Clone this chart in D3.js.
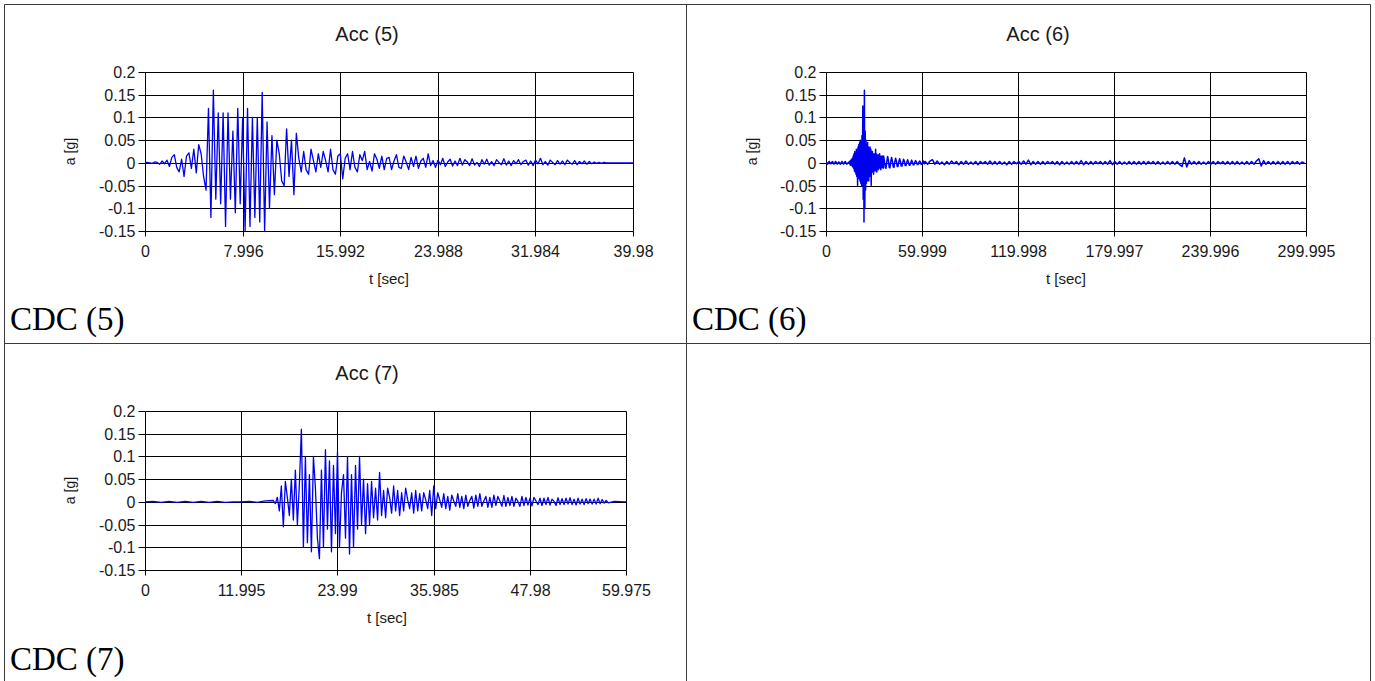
<!DOCTYPE html>
<html><head><meta charset="utf-8">
<script src="https://cdn.jsdelivr.net/npm/d3@7"></script>
<style>body{margin:0;background:#fff}svg{display:block}</style>
</head><body>
<svg id="c" width="1375" height="681"></svg>
<script>
// ---------------- DATA ----------------
const titles = ["Acc (5)", "Acc (6)", "Acc (7)"];
const captions = ["CDC (5)", "CDC (6)", "CDC (7)"];
const yLabel = "a [g]";
const xLabel = "t [sec]";
const yTicks = [-0.15, -0.1, -0.05, 0, 0.05, 0.1, 0.15, 0.2];
const yTickLabels = ["-0.15", "-0.1", "-0.05", "0", "0.05", "0.1", "0.15", "0.2"];
const xTicks5 = [0, 7.996, 15.992, 23.988, 31.984, 39.98];
const xTicks6 = [0, 59.999, 119.998, 179.997, 239.996, 299.995];
const xTicks7 = [0, 11.995, 23.99, 35.985, 47.98, 59.975];

// Acc (5): samples every 0.2 s from t = 0
const acc5Dt = 0.2;
const acc5 = [
 0,0.001,0,-0.001,0.002,0.001,-0.003,0.004,-0.002,0.006,
 -0.008,0.012,0.018,-0.01,-0.02,0.008,-0.03,0.015,0.022,-0.012,
 0.03,-0.022,0.04,0.02,-0.03,-0.06,0.12,-0.12,0.16,-0.08,
 0.11,-0.09,0.11,-0.14,0.11,-0.08,0.07,-0.11,0.12,-0.09,
 0.1,-0.15,0.12,-0.14,0.1,-0.12,0.1,-0.13,0.155,-0.15,
 0.09,-0.1,0.06,-0.07,0.05,0.02,-0.04,-0.05,0.075,-0.03,
 0.05,-0.07,0.065,0.01,-0.02,0.025,-0.015,-0.025,0.03,0.005,
 -0.02,0.02,-0.01,0.025,0.005,-0.02,0.03,-0.015,-0.025,0.015,
 0.02,-0.035,0.01,0.02,-0.015,0.025,-0.01,-0.02,0.018,0.005,
 0.025,-0.015,0.003,-0.018,0.02,0.008,-0.012,0.015,-0.015,0.01,
 0.012,-0.015,0.004,0.018,-0.01,-0.012,0.015,0.002,-0.015,0.012,
 -0.008,0.015,-0.012,0.004,0.01,-0.01,0.02,-0.006,0.005,-0.01,
 0.006,-0.004,0.01,-0.008,0.002,0.008,-0.007,0.004,-0.006,0.01,
 -0.005,0.007,0.002,-0.006,0.009,-0.005,0.001,-0.008,0.007,-0.003,
 0.008,-0.005,0.003,-0.006,0.007,0.001,-0.004,0.009,-0.005,0.004,
 -0.006,0.005,-0.002,0.007,-0.004,0.003,0.006,-0.005,0.004,-0.006,
 0.006,-0.002,0.01,-0.004,0.003,-0.005,0.006,0.001,-0.004,0.005,
 -0.003,0.004,-0.004,0.006,0.001,-0.003,0.005,-0.004,0.003,-0.002,
 0.004,-0.003,0.003,-0.002,0.002,-0.001,0.001,-0.001,0.001,0,
 0,0,0,0,0,0,0,0,0,0
];
const acc5End = 39.98;

// Acc (6): four segments with their own start time and step
const acc6PreStart = 0, acc6PreDt = 1;
const acc6Pre = [0.003,-0.003,0.003,-0.002,0.003,-0.003,0.003,-0.003,0.002,-0.003,0.003,-0.003,0.003,-0.003];
const acc6BurstStart = 14, acc6BurstDt = 0.25;
const acc6Burst = [
 0.001,-0.001,0.002,-0.002,
 0.004,-0.005,0.006,-0.004,0.008,-0.007,0.01,-0.009,
 0.015,-0.012,0.02,-0.018,0.025,-0.02,0.018,-0.025,
 0.03,-0.03,0.025,-0.05,0.035,-0.03,0.04,-0.035,
 0.045,-0.04,0.05,-0.045,0.04,-0.05,0.06,-0.05,
 0.125,-0.08,0.09,-0.13,0.16,-0.1,0.07,-0.06,
 0.05,-0.045,0.04,-0.04,0.045,-0.035,0.035,-0.04,
 0.03,-0.03,0.035,-0.025,0.03,-0.05,0.025,-0.02,
 0.025,-0.02,0.02,-0.025,0.018,-0.015,0.02,-0.018,
 0.03,-0.015,0.02,-0.02,0.015,-0.012,0.018,-0.015,
 0.015,-0.012,0.02,-0.01,0.012,-0.015,0.015,-0.01,
 0.012,-0.01,0.015,-0.012
];
const acc6CodaStart = 36, acc6CodaDt = 0.5;
const acc6Coda = [
 0.015,0.005,-0.01,-0.012,0.002,0.014,0.006,-0.01,-0.011,0.003,
 0.012,0.004,-0.009,-0.01,0.002,0.01,0.004,-0.008,-0.008,0.002,
 0.009,0.003,-0.007,-0.007,0.001,0.008,0.003,-0.006,-0.006,0.001,
 0.007,0.002,-0.005,-0.005,0.001,0.006,0.002,-0.004,-0.004,0.001,
 0.005,0.002,-0.003,-0.004,0.001,0.004,0.002,-0.003,-0.003,0.001,
 0.004,-0.002
];
const acc6TailStart = 62, acc6TailDt = 1.5;
const acc6Tail = [
 0.003,-0.003,0.004,0.007,-0.003,0.004,-0.003,0.002,-0.004,0.003,
 -0.003,0.004,-0.002,0.003,-0.004,0.003,-0.003,0.004,-0.003,0.002,
 -0.003,0.003,-0.004,0.003,-0.002,0.003,-0.003,0.004,-0.003,0.003,
 -0.003,0.003,-0.003,0.002,-0.004,0.003,-0.003,0.003,-0.002,0.003,
 -0.003,0.004,-0.003,0.006,-0.004,0.003,-0.003,0.003,-0.003,0.003,
 -0.003,0.003,-0.002,0.003,-0.003,0.003,-0.004,0.003,-0.003,0.002,
 -0.003,0.003,-0.003,0.003,-0.003,0.005,-0.004,0.003,-0.003,0.003,
 -0.003,0.003,-0.002,0.003,-0.003,0.003,-0.003,0.005,-0.004,0.003,
 -0.003,0.003,-0.003,0.002,-0.003,0.003,-0.003,0.003,-0.003,0.003,
 -0.003,0.003,-0.003,0.003,-0.002,0.003,-0.003,0.003,-0.003,0.002,
 -0.003,0.003,-0.003,0.003,-0.003,0.003,-0.004,-0.008,0.011,-0.009,
 0.005,-0.003,0.003,-0.003,0.003,-0.003,0.002,-0.003,0.003,-0.003,
 0.003,-0.003,0.003,-0.002,0.003,-0.003,0.003,-0.003,0.003,-0.003,
 0.003,-0.003,0.002,-0.003,0.003,-0.003,0.003,-0.003,0.004,0.009,
 -0.007,0.005,-0.003,0.003,-0.003,0.003,-0.003,0.003,-0.003,0.003,
 -0.003,0.003,-0.003,0.003,-0.002,0.003,-0.003,0.002,0
];

// Acc (7): quiet start, then samples every 0.25 s from t = 16
const acc7PreStart = 0, acc7PreDt = 1;
const acc7Pre = [0,0.001,-0.001,0.001,-0.001,0.001,-0.001,0.001,-0.001,0.001,-0.001,0,0,0.001,-0.001,0.002];
const acc7BurstStart = 16, acc7BurstDt = 0.25;
const acc7Burst = [
 0.003,-0.004,0.01,-0.02,0.035,-0.055,0.045,0.01,
 -0.03,0.05,-0.04,0.07,-0.05,0.04,0.16,-0.1,
 0.1,-0.09,0.06,-0.11,0.1,0.03,-0.08,-0.125,
 0.07,-0.1,0.115,-0.06,0.09,-0.11,0.08,-0.07,
 0.11,-0.1,0.02,0.06,-0.08,0.1,-0.115,0.06,
 -0.1,0.08,-0.06,0.1,-0.05,0.05,-0.07,0.04,
 -0.05,0.045,-0.035,0.03,-0.04,0.065,-0.03,0.025,
 -0.035,0.03,0.01,-0.025,0.035,-0.02,0.025,-0.03,
 0.02,-0.02,0.03,0.005,-0.015,0.02,-0.025,0.025,
 -0.02,0.018,-0.02,0.02,0.005,-0.015,0.025,-0.03,
 0.035,-0.015,0.02,0.004,-0.012,0.018,-0.015,0.012,
 -0.018,0.015,0.002,-0.01,0.018,-0.012,0.012,-0.015,
 0.015,-0.01,0.003,0.012,-0.014,0.015,-0.01,0.018,
 -0.01,0.002,0.012,-0.012,0.01,-0.012,0.015,-0.008,
 0.012,0.002,-0.01,0.014,-0.01,0.01,-0.008,0.012,
 -0.01,0.008,0.001,-0.01,0.012,-0.008,0.01,-0.007,
 0.008,-0.009,0.01,0.002,-0.006,0.008,-0.008,0.008,
 -0.006,0.01,-0.007,0.006,0.001,-0.008,0.009,-0.006,
 0.007,-0.006,0.008,-0.005,0.009,-0.006,0.006,-0.007,
 0.008,-0.005,0.006,-0.006,0.007,-0.004,0.006,-0.005,
 0.006,-0.005,0.008,-0.004,0.005,-0.003,0.003,-0.002
];
const acc7TailTimes = [58.5, 59.975];
const acc7TailValues = [0.001, 0];

// ---------------- BUILD SERIES ----------------
function seg(start, dt, vals) { return vals.map((v, i) => [start + i * dt, v]); }
const series5 = seg(0, acc5Dt, acc5).concat([[acc5End, 0]]);
const series6 = [].concat(
  seg(acc6PreStart, acc6PreDt, acc6Pre),
  seg(acc6BurstStart, acc6BurstDt, acc6Burst),
  seg(acc6CodaStart, acc6CodaDt, acc6Coda),
  seg(acc6TailStart, acc6TailDt, acc6Tail)
);
const series7 = [].concat(
  seg(acc7PreStart, acc7PreDt, acc7Pre),
  seg(acc7BurstStart, acc7BurstDt, acc7Burst),
  acc7TailTimes.map((t, i) => [t, acc7TailValues[i]])
);

// ---------------- LAYOUT ----------------
const charts = [
  {title: titles[0], caption: captions[0], xTicks: xTicks5, data: series5, sw: 1.3,
   L: 145, R: 633, T: 72, B: 231, titleX: 367, titleY: 41, yLabX: 70, xLabX: 389, capX: 10, capY: 330},
  {title: titles[1], caption: captions[1], xTicks: xTicks6, data: series6, sw: 1.5,
   L: 826, R: 1306, T: 72, B: 231, titleX: 1038, titleY: 41, yLabX: 752, xLabX: 1066, capX: 692, capY: 330},
  {title: titles[2], caption: captions[2], xTicks: xTicks7, data: series7, sw: 1.3,
   L: 145, R: 626, T: 411, B: 570, titleX: 367, titleY: 380, yLabX: 70, xLabX: 387, capX: 10, capY: 670}
];

const svg = d3.select("#c");
const SANS = "'Liberation Sans', Arial, sans-serif";
const SERIF = "'Liberation Serif', 'Times New Roman', serif";

// table borders
const border = "#3a3a3a";
const tbl = [
  [4.5, 4.5, 1370.5, 4.5],
  [4.5, 4.5, 4.5, 681],
  [1370.5, 4.5, 1370.5, 681],
  [686.5, 4.5, 686.5, 681],
  [4.5, 343.5, 1370.5, 343.5]
];
svg.selectAll("line.tbl").data(tbl).enter().append("line")
  .attr("x1", d => d[0]).attr("y1", d => d[1]).attr("x2", d => d[2]).attr("y2", d => d[3])
  .attr("stroke", border).attr("stroke-width", 1);

charts.forEach((c, ci) => {
  const g = svg.append("g");
  const x = d3.scaleLinear().domain([0, c.xTicks[c.xTicks.length - 1]]).range([c.L, c.R]);
  const y = d3.scaleLinear().domain([-0.15, 0.2]).range([c.B, c.T]);
  const px = v => Math.round(x(v)) + 0.5;
  const py = v => Math.round(y(v)) + 0.5;

  g.selectAll("line.hg").data(yTicks).enter().append("line")
    .attr("x1", c.L + 0.5).attr("x2", Math.round(c.R) + 0.5)
    .attr("y1", d => py(d)).attr("y2", d => py(d))
    .attr("stroke", "#000").attr("stroke-width", 1);
  g.selectAll("line.vg").data(c.xTicks).enter().append("line")
    .attr("x1", d => px(d)).attr("x2", d => px(d))
    .attr("y1", py(0.2)).attr("y2", py(-0.15))
    .attr("stroke", "#000").attr("stroke-width", 1);

  const yAxis = d3.axisLeft(y).tickValues(yTicks).tickSize(7).tickPadding(3)
    .tickFormat((d, i) => yTickLabels[i]);
  const ya = g.append("g").attr("transform", `translate(${c.L + 0.5},0)`).call(yAxis);
  ya.select(".domain").remove();
  ya.selectAll(".tick").attr("transform", d => `translate(0,${py(d)})`);
  ya.selectAll(".tick line").attr("stroke", "#000");
  ya.selectAll(".tick text").attr("fill", "#1a1a1a").style("font-family", SANS).style("font-size", "16px");

  const xAxis = d3.axisBottom(x).tickValues(c.xTicks).tickSize(5).tickPadding(9)
    .tickFormat(d => String(d));
  const xa = g.append("g").attr("transform", `translate(0,${Math.round(c.B) + 0.5})`).call(xAxis);
  xa.select(".domain").remove();
  xa.selectAll(".tick").attr("transform", d => `translate(${px(d)},0)`);
  xa.selectAll(".tick line").attr("stroke", "#000");
  xa.selectAll(".tick text").attr("fill", "#1a1a1a").style("font-family", SANS).style("font-size", "16px");

  const cid = "clip" + ci;
  svg.append("clipPath").attr("id", cid).append("rect")
    .attr("x", c.L).attr("y", c.T - 2).attr("width", c.R - c.L + 1).attr("height", c.B - c.T + 4);

  const line = d3.line().x(d => x(d[0])).y(d => y(d[1]));
  g.append("path").datum(c.data)
    .attr("clip-path", `url(#${cid})`)
    .attr("d", line).attr("fill", "none")
    .attr("stroke", "#0000f0").attr("stroke-width", c.sw).attr("stroke-linejoin", "round");

  g.append("text").attr("x", c.titleX).attr("y", c.titleY).attr("text-anchor", "middle")
    .style("font-family", SANS).style("font-size", "20px").attr("fill", "#1a1a1a").text(c.title);
  g.append("text").attr("transform", `translate(${c.yLabX + 5},${(c.T + c.B) / 2}) rotate(-90)`)
    .attr("text-anchor", "middle")
    .style("font-family", SANS).style("font-size", "14px").attr("fill", "#1a1a1a").text(yLabel);
  g.append("text").attr("x", c.xLabX).attr("y", c.B + 53).attr("text-anchor", "middle")
    .style("font-family", SANS).style("font-size", "15px").attr("fill", "#1a1a1a").text(xLabel);
  g.append("text").attr("x", c.capX).attr("y", c.capY)
    .style("font-family", SERIF).style("font-size", "33px").attr("fill", "#000").text(c.caption);
});
</script>
</body></html>
